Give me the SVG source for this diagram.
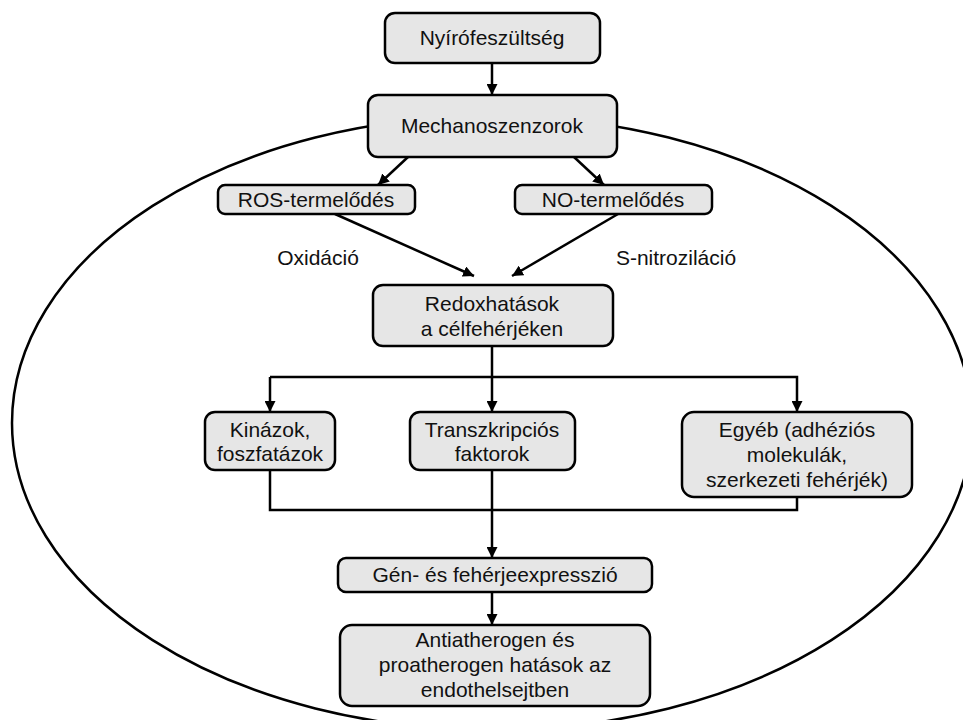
<svg xmlns="http://www.w3.org/2000/svg" width="963" height="720" viewBox="0 0 963 720">
<style>
.box{fill:#e6e6e6;stroke:#000;stroke-width:2.5}
.t{font-family:"Liberation Sans",Arial,sans-serif;font-size:21px;fill:#111;text-anchor:middle}
.c{fill:none;stroke:#000;stroke-width:2.5}
</style>
<defs>
<marker id="ah" markerUnits="userSpaceOnUse" markerWidth="13" markerHeight="11" refX="11" refY="5.5" orient="auto">
<path d="M0,0 L11,5.5 L0,11 z" fill="#000"/>
</marker>
</defs>
<rect width="963" height="720" fill="#fff"/>
<ellipse id="cell" cx="492" cy="423" rx="480" ry="307" fill="none" stroke="#000" stroke-width="2.5"/>
<g id="connectors">
<path class="c" d="M492,63 V95" marker-end="url(#ah)"/>
<path class="c" d="M408,157 L378,185" marker-end="url(#ah)"/>
<path class="c" d="M574,157 L604,185" marker-end="url(#ah)"/>
<path class="c" d="M335,214 L474,276" marker-end="url(#ah)"/>
<path class="c" d="M618,214 L512,276" marker-end="url(#ah)"/>
<path class="c" d="M492,346 V377"/>
<path class="c" d="M270,377 H797 V412" marker-end="url(#ah)"/>
<path class="c" d="M270,377 V412" marker-end="url(#ah)"/>
<path class="c" d="M492,377 V412" marker-end="url(#ah)"/>
<path class="c" d="M270,470 V510 H797 V497"/>
<path class="c" d="M492,470 V558" marker-end="url(#ah)"/>
<path class="c" d="M492,592 V625" marker-end="url(#ah)"/>
</g>
<g id="n1"><rect class="box" x="385" y="13" width="215" height="50" rx="10"/><text class="t" x="492" y="45">Nyírófeszültség</text></g>
<g id="n2"><rect class="box" x="368" y="95" width="249" height="62" rx="10"/><text class="t" x="492" y="133">Mechanoszenzorok</text></g>
<g id="n3"><rect class="box" x="218" y="185" width="197" height="29" rx="7"/><text class="t" x="316" y="207">ROS-termelődés</text></g>
<g id="n4"><rect class="box" x="515" y="185" width="197" height="29" rx="7"/><text class="t" x="613" y="207">NO-termelődés</text></g>
<g id="l1"><text class="t" x="318" y="265">Oxidáció</text></g>
<g id="l2"><text class="t" x="676" y="265">S-nitroziláció</text></g>
<g id="n5"><rect class="box" x="373" y="285" width="240" height="61" rx="10"/><text class="t" x="492" y="311">Redoxhatások</text><text class="t" x="492" y="336">a célfehérjéken</text></g>
<g id="n6"><rect class="box" x="205" y="412" width="130" height="58" rx="10"/><text class="t" x="270" y="437">Kinázok,</text><text class="t" x="270" y="461">foszfatázok</text></g>
<g id="n7"><rect class="box" x="410" y="412" width="165" height="58" rx="10"/><text class="t" x="492" y="437">Transzkripciós</text><text class="t" x="492" y="461">faktorok</text></g>
<g id="n8"><rect class="box" x="682" y="412" width="230" height="85" rx="12"/><text class="t" x="797" y="437">Egyéb (adhéziós</text><text class="t" x="797" y="462">molekulák,</text><text class="t" x="797" y="487">szerkezeti fehérjék)</text></g>
<g id="n9"><rect class="box" x="338" y="558" width="314" height="34" rx="8"/><text class="t" x="495" y="582">Gén- és fehérjeexpresszió</text></g>
<g id="n10"><rect class="box" x="340" y="625" width="310" height="81" rx="12"/><text class="t" x="495" y="647">Antiatherogen és</text><text class="t" x="495" y="672">proatherogen hatások az</text><text class="t" x="495" y="697">endothelsejtben</text></g>
</svg>
